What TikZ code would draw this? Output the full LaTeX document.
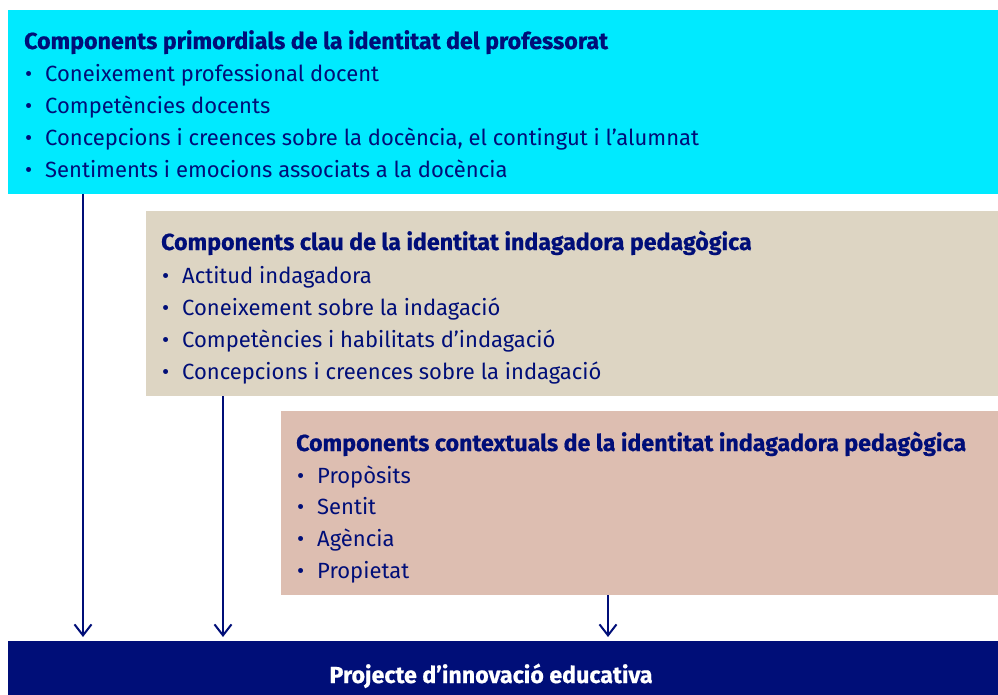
\documentclass[tikz,border=0pt]{standalone}
\usepackage{fontspec}
\setmainfont[BoldFeatures={FakeBold=0.6}]{Fira Sans}
\usetikzlibrary{arrows.meta}
\definecolor{cyanbox}{RGB}{0,234,255}
\definecolor{beigebox}{RGB}{221,213,195}
\definecolor{pinkbox}{RGB}{221,190,177}
\definecolor{navy}{RGB}{0,14,120}
\tikzset{
  box/.style={rectangle, anchor=north west, inner sep=0pt, outer sep=0pt, draw=none},
  ttl/.style={anchor=base west, inner sep=0pt, text=navy, font=\fontsize{23.2}{26}\selectfont\bfseries},
  itm/.style={anchor=base west, inner sep=0pt, text=navy, font=\fontsize{22}{26}\selectfont},
  conn/.style={draw=navy, line width=2pt, -{Straight Barb[length=11pt,width=17pt,line width=2pt]}}
}
\newcommand{\bul}{\makebox[20pt][l]{•}}
\begin{document}
\begin{tikzpicture}[x=1pt,y=-1pt]
\useasboundingbox (0,0) rectangle (998,695);
% boxes
\node[box, fill=cyanbox, minimum width=990pt, minimum height=184pt] (b1) at (8,10) {};
\node[box, fill=beigebox, minimum width=852pt, minimum height=185pt] (b2) at (146,211) {};
\node[box, fill=pinkbox, minimum width=717pt, minimum height=184pt] (b3) at (281,411) {};
\node[box, fill=navy, minimum width=990pt, minimum height=60pt] (b4) at (8,641) {};
% box 1 text
\node[ttl] (t1) at (24,49) {Components primordials de la identitat del professorat};
\node[itm] (t1a) at (25,82) {\bul Coneixement professional docent};
\node[itm] (t1b) at (25,114) {\bul Competències docents};
\node[itm] (t1c) at (25,146) {\bul Concepcions i creences sobre la docència, el contingut i l’alumnat};
\node[itm] (t1d) at (25,178) {\bul Sentiments i emocions associats a la docència};
% box 2 text
\node[ttl] (t2) at (161,250) {Components clau de la identitat indagadora pedagògica};
\node[itm] (t2a) at (162,283) {\bul Actitud indagadora};
\node[itm] (t2b) at (162,315) {\bul Coneixement sobre la indagació};
\node[itm] (t2c) at (162,347) {\bul Competències i habilitats d’indagació};
\node[itm] (t2d) at (162,379) {\bul Concepcions i creences sobre la indagació};
% box 3 text
\node[ttl] (t3) at (296,451) {Components contextuals de la identitat indagadora pedagògica};
\node[itm] (t3a) at (297,483) {\bul Propòsits};
\node[itm] (t3b) at (297,514) {\bul Sentit};
\node[itm] (t3c) at (297,546) {\bul Agència};
\node[itm] (t3d) at (297,578) {\bul Propietat};
% box 4 text
\node[anchor=base, inner sep=0pt, text=white, font=\fontsize{23.2}{26}\selectfont\bfseries] (t4) at (491,683) {Projecte d’innovació educativa};
% connectors
\coordinate (s1) at (83,194);
\coordinate (e1) at (83,637);
\coordinate (s2) at (223,396);
\coordinate (e2) at (223,637);
\coordinate (s3) at (608,595);
\coordinate (e3) at (608,637);
\draw[conn] (s1) -- (e1);
\draw[conn] (s2) -- (e2);
\draw[conn] (s3) -- (e3);
\end{tikzpicture}
\end{document}
